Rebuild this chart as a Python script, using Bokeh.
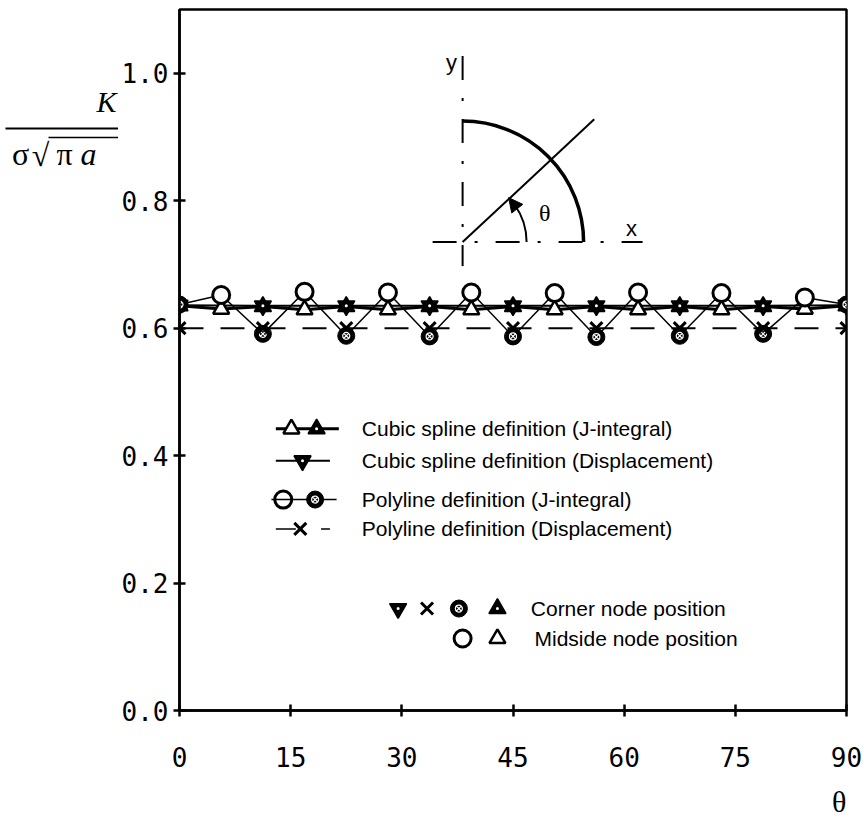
import math
from bokeh.plotting import figure
from bokeh.layouts import row
from bokeh.models import (Label, Arrow, NormalHead, FixedTicker, LinearAxis,
                          PrintfTickFormatter, Range1d)
from bokeh.core.properties import value
from bokeh.embed import file_html
from bokeh.resources import INLINE

# ---------------- data ----------------
theta_corner = [0, 11.25, 22.5, 33.75, 45, 56.25, 67.5, 78.75, 90]
theta_mid = [5.625, 16.875, 28.125, 39.375, 50.625, 61.875, 73.125, 84.375]

# Cubic spline definition (J-integral)
cubic_J_corner = [0.635, 0.634, 0.634, 0.634, 0.634, 0.634, 0.634, 0.634, 0.635]
cubic_J_mid = [0.630, 0.629, 0.629, 0.629, 0.629, 0.629, 0.629, 0.630]
# Cubic spline definition (Displacement)
cubic_disp = [0.636, 0.635, 0.635, 0.635, 0.635, 0.635, 0.635, 0.635, 0.636]
# Polyline definition (J-integral)
poly_J_corner = [0.637, 0.591, 0.588, 0.587, 0.587, 0.586, 0.588, 0.591, 0.637]
poly_J_mid = [0.652, 0.657, 0.656, 0.656, 0.655, 0.656, 0.655, 0.648]
# Polyline definition (Displacement)
poly_disp = [0.600, 0.600, 0.600, 0.600, 0.600, 0.600, 0.600, 0.600, 0.600]

x_ticks = [0, 15, 30, 45, 60, 75, 90]
y_ticks = [0.0, 0.2, 0.4, 0.6, 0.8, 1.0]

legend_labels = ["Cubic spline definition (J-integral)",
                 "Cubic spline definition (Displacement)",
                 "Polyline definition (J-integral)",
                 "Polyline definition (Displacement)"]
node_labels = ["Corner node position", "Midside node position"]


def interleave(corner, mid):
    out = []
    for i, c in enumerate(corner):
        out.append(c)
        if i < len(mid):
            out.append(mid[i])
    return out


theta_all = interleave(theta_corner, theta_mid)
cubic_J_all = interleave(cubic_J_corner, cubic_J_mid)
poly_J_all = interleave(poly_J_corner, poly_J_mid)

# ---------------- main figure ----------------
FW, FH = 667, 701
XMAX, YMAX = 90, 1.1
PX = FW / XMAX          # px per degree
PY = FH / YMAX          # px per unit
LEFT_W = 118

p = figure(frame_width=FW, frame_height=FH,
           min_border_left=178 - LEFT_W, min_border_right=19,
           min_border_top=9, min_border_bottom=111,
           x_range=Range1d(0, XMAX), y_range=Range1d(0, YMAX),
           output_backend="svg", toolbar_location=None)
p.xgrid.visible = False
p.ygrid.visible = False
p.background_fill_color = "white"
p.border_fill_color = "white"
p.outline_line_color = "black"
p.outline_line_width = 2.5
p.outline_line_alpha = 1.0

p.xaxis.ticker = FixedTicker(ticks=x_ticks)
p.yaxis.ticker = FixedTicker(ticks=y_ticks)
p.yaxis.formatter = PrintfTickFormatter(format="%.1f")
for ax in (p.xaxis, p.yaxis):
    ax.axis_line_width = 2.5
    ax.axis_line_color = "black"
    ax.major_tick_line_width = 2.5
    ax.major_tick_line_color = "black"
    ax.major_tick_in = 6
    ax.major_tick_out = 6
    ax.minor_tick_in = 0
    ax.minor_tick_out = 0
    ax.major_label_text_font = "DejaVu Sans Mono"
    ax.major_label_text_font_size = "26px"
    ax.major_label_text_color = "black"
p.yaxis.major_label_standoff = 5
p.xaxis.major_label_standoff = 30

# x-axis title "θ" at the right end, as a second (tick-less) axis
theta_axis = LinearAxis(ticker=FixedTicker(ticks=[89]), major_label_overrides={89: "θ"},
                        axis_line_alpha=0, major_tick_in=0, major_tick_out=0,
                        minor_tick_in=0, minor_tick_out=0, major_label_standoff=15,
                        major_label_text_font="Liberation Serif",
                        major_label_text_font_size="30px", major_label_text_color="black")
p.add_layout(theta_axis, "below")

# ---------------- series ----------------
BLK = "black"
p.line(theta_corner, poly_disp, line_color=BLK, line_width=2, line_dash="24 17")
p.line(theta_all, poly_J_all, line_color=BLK, line_width=1.5)
p.line(theta_all, cubic_J_all, line_color=BLK, line_width=3)
p.line(theta_corner, cubic_disp, line_color=BLK, line_width=2)

MS = 17


def filled_circle(xs, ys):
    p.scatter(xs, ys, marker="circle", size=MS, fill_color=BLK, line_color=BLK, line_width=1)
    p.scatter(xs, ys, marker="circle_x", size=7, fill_alpha=0, line_color="white", line_width=1.2)


def open_circle(xs, ys):
    p.scatter(xs, ys, marker="circle", size=MS, fill_color="white", line_color=BLK, line_width=3)


def filled_up(xs, ys):
    p.scatter(xs, ys, marker="triangle", size=MS, fill_color=BLK, line_color=BLK, line_width=1.5)
    p.scatter(xs, ys, marker="circle", size=3, fill_color="white", line_color=None)


def open_up(xs, ys):
    p.scatter(xs, ys, marker="triangle", size=MS - 1, fill_color="white", line_color=BLK, line_width=2.5)


def filled_down(xs, ys):
    p.scatter(xs, ys, marker="inverted_triangle", size=MS, fill_color=BLK, line_color=BLK, line_width=1.5)
    p.scatter(xs, ys, marker="circle", size=3, fill_color="white", line_color=None)


def cross(xs, ys):
    p.scatter(xs, ys, marker="x", size=17, line_color=BLK, line_width=3)


open_up(theta_mid, cubic_J_mid)
filled_up(theta_corner, cubic_J_corner)
filled_down(theta_corner, cubic_disp)
filled_circle(theta_corner, poly_J_corner)
open_circle(theta_mid, poly_J_mid)
cross(theta_corner, poly_disp)

# ---------------- legend (drawn in the plot) ----------------
LFONT = "Liberation Sans"
LSIZE = "21px"
ly = [0.442, 0.392, 0.331, 0.285]
p.line([13.0, 21.5], [ly[0], ly[0]], line_color=BLK, line_width=3)
open_up([15.1], [ly[0]])
filled_up([18.5], [ly[0]])
p.line([13.0, 20.3], [ly[1], ly[1]], line_color=BLK, line_width=2)
filled_down([16.6], [ly[1]])
p.line([12.4, 21.2], [ly[2], ly[2]], line_color=BLK, line_width=1.5)
p.scatter([14.0], [ly[2]], marker="circle", size=MS, fill_alpha=0, line_color=BLK, line_width=3)
filled_circle([18.3], [ly[2]])
p.line([13.0, 15.7], [ly[3], ly[3]], line_color=BLK, line_width=1.5)
p.line([19.1, 20.3], [ly[3], ly[3]], line_color=BLK, line_width=1.5)
cross([16.3], [ly[3]])
for yy, t in zip(ly, legend_labels):
    p.add_layout(Label(x=24.6, y=yy, text=t, text_font=LFONT, text_font_size=LSIZE,
                       text_baseline="middle", text_color=BLK))

ny = [0.160, 0.113]
filled_down([29.5], [ny[0]])
cross([33.4], [ny[0]])
filled_circle([37.7], [ny[0]])
filled_up([42.9], [ny[0]])
open_circle([38.2], [ny[1]])
open_up([42.9], [ny[1]])
p.add_layout(Label(x=47.4, y=ny[0], text=node_labels[0], text_font=LFONT, text_font_size=LSIZE,
                   text_baseline="middle", text_color=BLK))
p.add_layout(Label(x=47.9, y=ny[1], text=node_labels[1], text_font=LFONT, text_font_size=LSIZE,
                   text_baseline="middle", text_color=BLK))

# ---------------- inset sketch ----------------
cx, cy = 38.2, 0.735
R_big, R_small = 121, 64
ang_line = math.radians(43)
DD = "24 18 3 18"
p.line([cx, cx], [cy + 186 / PY, cy - 24 / PY], line_color=BLK, line_width=2, line_dash=DD)
p.line([cx - 30 / PX, cx + 180 / PX], [cy, cy], line_color=BLK, line_width=2, line_dash=DD)
p.arc(x=[cx], y=[cy], radius=R_big, radius_units="screen", start_angle=0,
      end_angle=math.pi / 2, line_color=BLK, line_width=3.5)
p.line([cx, cx + 180 * math.cos(ang_line) / PX], [cy, cy + 180 * math.sin(ang_line) / PY],
       line_color=BLK, line_width=2)
p.arc(x=[cx], y=[cy], radius=R_small, radius_units="screen", start_angle=0,
      end_angle=math.radians(36), line_color=BLK, line_width=2)
a0, a1 = math.radians(32), math.radians(44)
p.add_layout(Arrow(x_start=cx + R_small * math.cos(a0) / PX, y_start=cy + R_small * math.sin(a0) / PY,
                   x_end=cx + R_small * math.cos(a1) / PX, y_end=cy + R_small * math.sin(a1) / PY,
                   line_alpha=0, end=NormalHead(size=14, fill_color=BLK, line_color=BLK)))
p.add_layout(Label(x=49.3, y=0.78, text="θ", text_font="Liberation Serif", text_font_size="24px",
                   text_align="center", text_baseline="middle", text_color=BLK))
p.add_layout(Label(x=61.0, y=0.756, text="x", text_font="Liberation Sans", text_font_size="22px",
                   text_align="center", text_baseline="middle", text_color=BLK))
p.add_layout(Label(x=36.7, y=1.017, text="y", text_font="Liberation Sans", text_font_size="22px",
                   text_align="center", text_baseline="middle", text_color=BLK))

# ---------------- y-axis title (fraction) in a narrow side panel ----------------
lf = figure(frame_width=LEFT_W, frame_height=821, min_border=0,
            x_range=Range1d(0, LEFT_W), y_range=Range1d(821, 0),
            x_axis_type=None, y_axis_type=None,
            output_backend="svg", toolbar_location=None)
lf.grid.visible = False
lf.outline_line_color = None
lf.background_fill_color = "white"
lf.border_fill_color = "white"
SER = value("Liberation Serif")
lf.text(x=[106], y=[92], text=["K"], text_font=SER, text_font_style="italic",
        text_font_size="30px", text_align="center", text_baseline="middle", text_color=BLK)
lf.segment(x0=[5], y0=[119], x1=[LEFT_W], y1=[119], line_color=BLK, line_width=2)
lf.text(x=[20], y=[144], text=["σ"], text_font=SER, text_font_size="32px",
        text_align="center", text_baseline="middle", text_color=BLK)
lf.text(x=[40], y=[145], text=["√"], text_font=SER, text_font_size="32px",
        text_align="center", text_baseline="middle", text_color=BLK)
lf.segment(x0=[48], y0=[128], x1=[LEFT_W], y1=[128], line_color=BLK, line_width=1.5)
lf.text(x=[64], y=[144], text=["π"], text_font=SER, text_font_size="32px",
        text_align="center", text_baseline="middle", text_color=BLK)
lf.text(x=[88], y=[144], text=["a"], text_font=SER, text_font_style="italic",
        text_font_size="32px", text_align="center", text_baseline="middle", text_color=BLK)

layout = row(lf, p, spacing=0)
open("out.html", "w").write(file_html(layout, INLINE))
